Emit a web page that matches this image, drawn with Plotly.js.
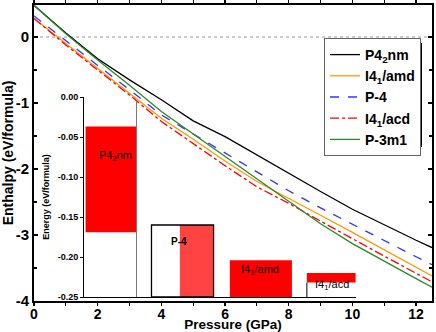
<!DOCTYPE html>
<html><head><meta charset="utf-8">
<script src="https://cdn.plot.ly/plotly-3.0.1.min.js"></script>
<style>html,body{margin:0;padding:0;background:#fff}#chart{width:436px;height:332px}</style>
</head><body><div id="chart"></div>
<script>
// ---- main chart data: enthalpy (eV/formula) vs pressure (GPa)
const pressure = [0, 1, 2, 3, 4, 5, 6, 7, 8, 9, 10, 11, 12, 12.5];
const hP42nm  = [0.48, 0.06, -0.33, -0.65, -0.95, -1.27, -1.51, -1.79, -2.06, -2.34, -2.61, -2.85, -3.08, -3.19];
const hI41amd = [0.28, -0.10, -0.48, -0.86, -1.23, -1.55, -1.88, -2.19, -2.44, -2.70, -2.96, -3.22, -3.49, -3.62];
const hP4     = [0.32, -0.06, -0.43, -0.80, -1.18, -1.47, -1.76, -2.05, -2.33, -2.59, -2.84, -3.09, -3.33, -3.45];
const hI41acd = [0.28, -0.12, -0.50, -0.88, -1.28, -1.62, -1.95, -2.27, -2.52, -2.79, -3.06, -3.32, -3.58, -3.71];
const hP3m1   = [0.48, 0.05, -0.35, -0.73, -1.13, -1.47, -1.81, -2.16, -2.50, -2.83, -3.13, -3.40, -3.66, -3.79];
const seriesNames = ['P4<sub>2</sub>nm', 'I4<sub>1</sub>/amd', 'P-4', 'I4<sub>1</sub>/acd', 'P-3m1'];
const yTickVals = [0, -1, -2, -3, -4];
const yTickText = ['0', '-1', '-2', '-3', '-4'];
const xTickVals = [0, 2, 4, 6, 8, 10, 12];

// ---- inset data: energy (eV/formula) ranges of each structure
const insetNames = ['P4<sub>2</sub>nm', 'P-4', 'I4<sub>1</sub>/amd', 'I4<sub>1</sub>/acd'];
const fillStart = [1.62, 4.58, 6.15, 8.57];
const fillEnd   = [3.22, 5.64, 8.10, 10.10];
const fillLow   = [-0.169, -0.25, -0.25, -0.232];
const fillHigh  = [-0.037, -0.16, -0.204, -0.220];
const fillColors = ['#ff0000', '#ff4242', '#ff0000', '#ff0000'];
const frameStart = [3.69], frameEnd = [5.64], frameLow = [-0.25], frameHigh = [-0.16];
const edgeP42X = [3.22, 3.22], edgeP42Y = [-0.005, -0.25];
const edgeAcdX = [8.57, 8.57], edgeAcdY = [-0.232, -0.25];
const labelX = [2.55, 4.56, 7.10, 9.35];
const labelY = [-0.074, -0.180, -0.216, -0.235];
const insetTickVals = [0, -0.05, -0.10, -0.15, -0.20, -0.25];
const insetTickText = ['0.00', '-0.05', '-0.10', '-0.15', '-0.20', '-0.25'];

const F = 'Liberation Sans, Arial, sans-serif';
const styles = [
  {color: '#000000', dash: 'solid'},
  {color: '#ff9900', dash: 'solid'},
  {color: '#3333ff', dash: 'dash'},
  {color: '#ff0000', dash: 'dashdot'},
  {color: '#2a8a2a', dash: 'solid'}
];
const series = [hP42nm, hI41amd, hP4, hI41acd, hP3m1];
const traces = series.map((s, i) => ({
  type: 'scatter', mode: 'lines', x: pressure, y: s, name: seriesNames[i],
  line: {color: styles[i].color, width: 1.3, dash: styles[i].dash},
  xaxis: 'x', yaxis: 'y', hoverinfo: 'skip'
}));

const mid = (a, b) => a.map((v, i) => (v + b[i]) / 2);
const diff = (a, b) => a.map((v, i) => v - b[i]);
traces.push({
  type: 'bar', x: mid(fillStart, fillEnd), width: diff(fillEnd, fillStart),
  base: fillLow, y: diff(fillHigh, fillLow), marker: {color: fillColors, line: {width: 0}},
  xaxis: 'x2', yaxis: 'y2', showlegend: false, hoverinfo: 'skip'
});
traces.push({
  type: 'bar', x: mid(frameStart, frameEnd), width: diff(frameEnd, frameStart),
  base: frameLow, y: diff(frameHigh, frameLow),
  marker: {color: 'rgba(0,0,0,0)', line: {color: '#000', width: 1.3}},
  xaxis: 'x2', yaxis: 'y2', showlegend: false, hoverinfo: 'skip'
});
traces.push({type: 'scatter', mode: 'lines', x: edgeP42X, y: edgeP42Y, line: {color: '#777', width: 1},
  xaxis: 'x2', yaxis: 'y2', showlegend: false, hoverinfo: 'skip'});
traces.push({type: 'scatter', mode: 'lines', x: edgeAcdX, y: edgeAcdY, line: {color: '#000', width: 1},
  xaxis: 'x2', yaxis: 'y2', showlegend: false, hoverinfo: 'skip'});

// plot area pixels: left 34, right 432, top 5, bottom 301
const L = 34, R = 432, T = 5, B = 301, W = R - L, H = B - T;
const xRange = [0, 12.5];
const px = v => L + (v - xRange[0]) / (xRange[1] - xRange[0]) * W;
const ix0 = 1.57, ix1 = 10.11;

const layout = {
  width: 436, height: 332,
  margin: {l: L, r: 436 - R, t: T, b: 332 - B, pad: 0},
  paper_bgcolor: '#fff', plot_bgcolor: 'rgba(0,0,0,0)',
  showlegend: true, barmode: 'overlay',
  font: {family: F, color: '#000'},
  xaxis: {
    domain: [0, 1], range: xRange, showgrid: false, zeroline: false,
    showline: true, linecolor: '#000', linewidth: 2, mirror: 'allticks',
    ticks: 'outside', ticklen: 3, tickwidth: 1.2, tickcolor: '#000', tickvals: xTickVals,
    ticklabelstandoff: -4,
    minor: {dtick: 1, ticks: 'outside', ticklen: 3, tickwidth: 1.2, tickcolor: '#000', showgrid: false},
    tickfont: {family: F, size: 14, color: '#000', weight: 'bold'},
    title: {text: '<b>Pressure (GPa)</b>', font: {family: F, size: 13.5, color: '#000'}, standoff: 2},
    automargin: false, anchor: 'y'
  },
  yaxis: {
    domain: [0, 1], range: [-4, 0.485], showgrid: false, zeroline: false,
    showline: true, linecolor: '#000', linewidth: 2, mirror: 'allticks',
    ticks: 'inside', ticklen: 4, tickwidth: 1.2, tickcolor: '#000',
    tickvals: yTickVals, ticktext: yTickText,
    minor: {dtick: 0.5, ticks: 'inside', ticklen: 3, tickwidth: 1.2, tickcolor: '#000', showgrid: false},
    tickfont: {family: F, size: 15, color: '#000', weight: 'bold'},
    title: {text: '<b>Enthalpy (eV/formula)</b>', font: {family: F, size: 14, color: '#000'}, standoff: 2},
    automargin: false, anchor: 'x'
  },
  xaxis2: {
    domain: [(px(ix0) - L) / W, (px(ix1) - L) / W], range: [ix0, ix1],
    showgrid: false, zeroline: false, showline: true, linecolor: '#000', linewidth: 1,
    ticks: '', showticklabels: false, anchor: 'y2', automargin: false
  },
  yaxis2: {
    domain: [(B - 297) / H, (B - 97) / H], range: [-0.25, 0],
    showgrid: false, zeroline: false, showline: true, linecolor: '#000', linewidth: 1,
    ticks: 'outside', ticklen: 3, tickcolor: '#000', tickwidth: 1,
    tickvals: insetTickVals, ticktext: insetTickText,
    tickfont: {family: F, size: 9, color: '#000', weight: 'bold'},
    title: {text: '<b>Energy (eV/formula)</b>', font: {family: F, size: 9, color: '#000'}, standoff: 6},
    anchor: 'x2', automargin: false
  },
  legend: {
    x: (324 - L) / W, y: (B - 38) / H, xanchor: 'left', yanchor: 'top',
    bgcolor: '#fff', bordercolor: '#666', borderwidth: 1,
    font: {family: F, size: 14, color: '#000', weight: 'bold'},
    itemwidth: 30, tracegroupgap: 0
  },
  shapes: [
    {type: 'line', xref: 'paper', x0: 0, x1: 1, yref: 'y', y0: 0, y1: 0,
     line: {color: '#999', width: 1, dash: 'dot'}, layer: 'below'},
    {type: 'rect', xref: 'paper', yref: 'paper',
     x0: (329 - L) / W, x1: (422 - L) / W, y0: (B - 147) / H, y1: (B - 43) / H,
     fillcolor: '#000', line: {width: 0}, layer: 'above'}
  ],
  annotations: insetNames.map((t, i) => ({
    xref: 'x2', yref: 'y2', x: labelX[i], y: labelY[i], text: t, showarrow: false,
    font: {family: F, size: i === 1 ? 10 : 11, color: '#000', weight: i === 1 ? 'bold' : 'normal'}
  }))
};

Plotly.newPlot('chart', traces, layout, {staticPlot: true, displayModeBar: false});
</script></body></html>
